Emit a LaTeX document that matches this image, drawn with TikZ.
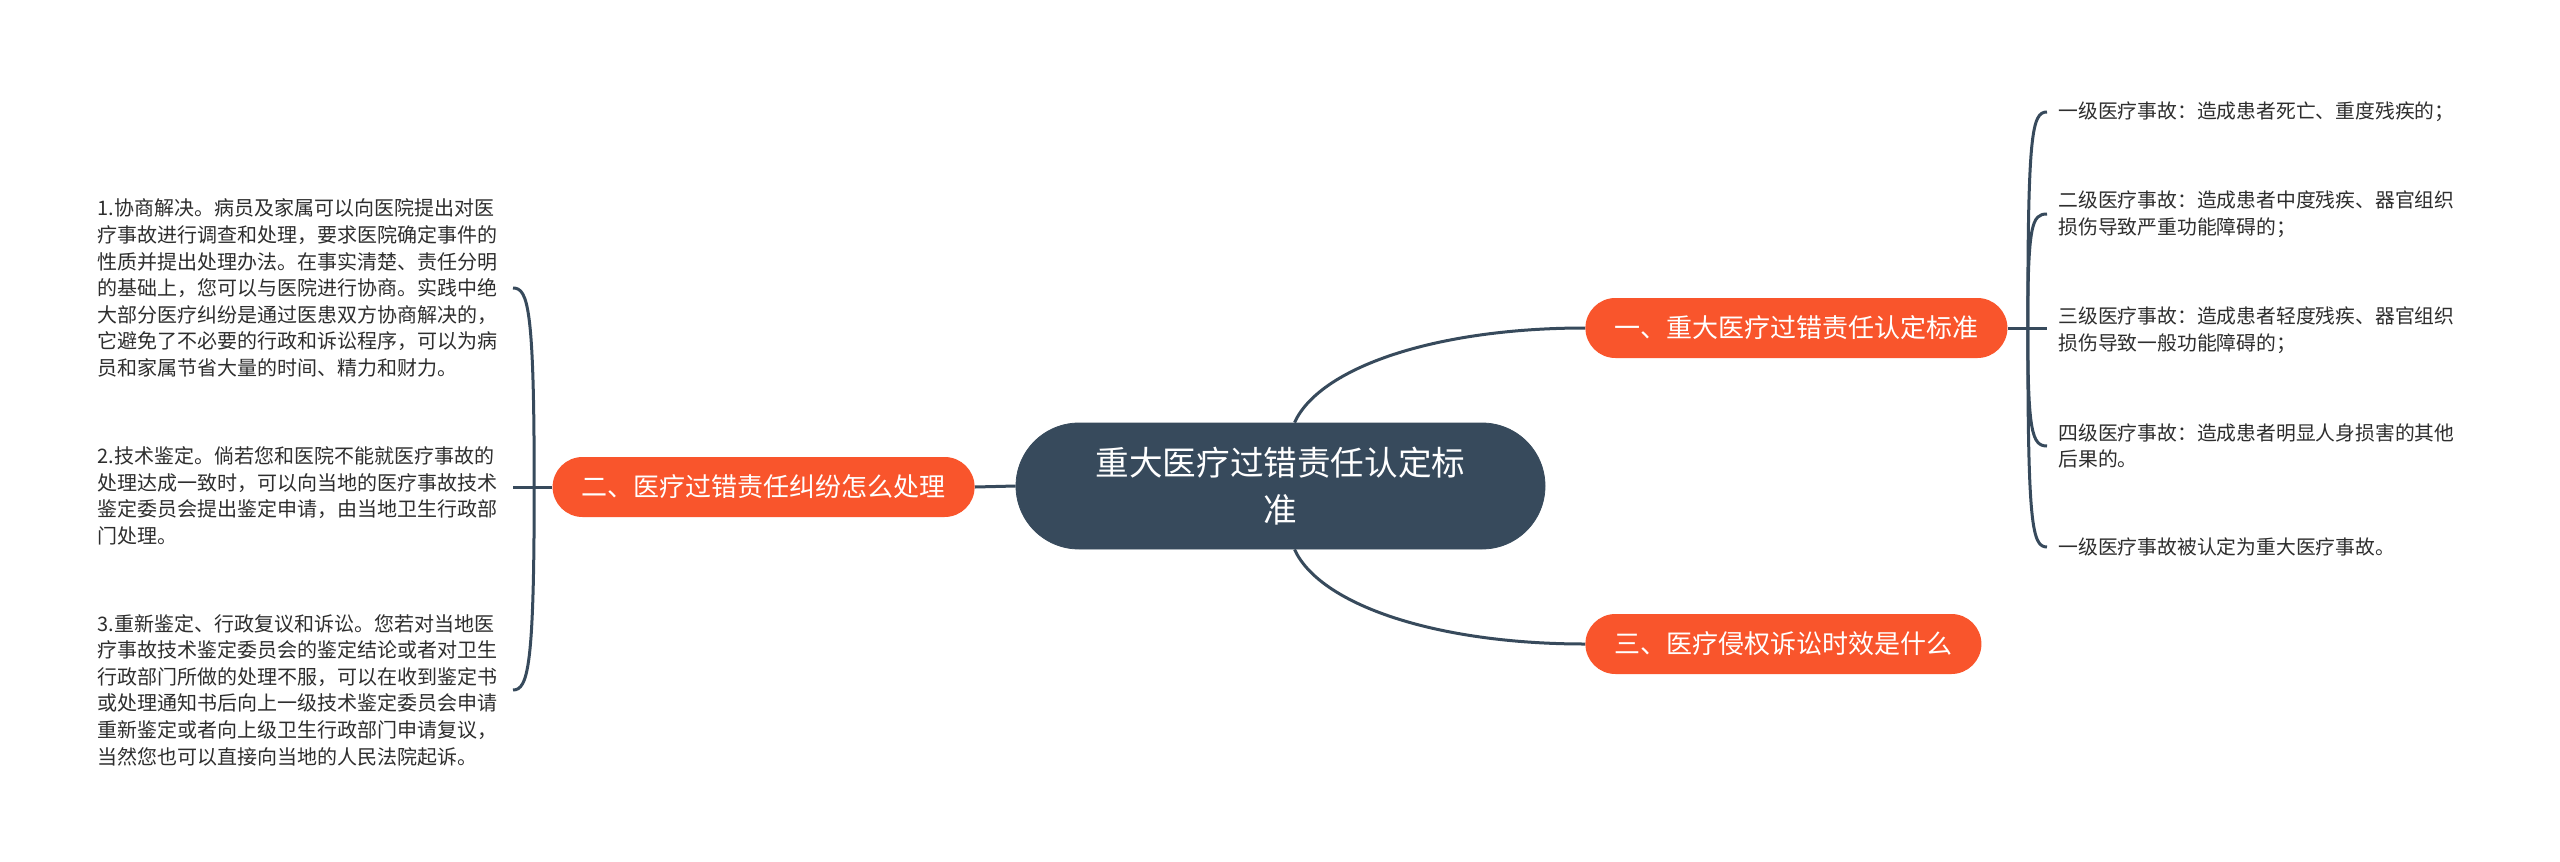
\documentclass[tikz,border=0pt]{standalone}
\usepackage{fontspec}
\setmainfont{Noto Sans CJK SC}
\usepackage{xcolor}
\usepackage{tikz}
\usetikzlibrary{positioning,calc}
\definecolor{slate}{HTML}{374A5C}
\definecolor{tangerine}{HTML}{F9552C}
\definecolor{inkgrey}{HTML}{2E2E2E}
\tikzstyle{link} = [draw=slate, line width=1.5pt]
\tikzstyle{hub} = [rectangle, fill=slate, draw=slate, rounded corners=31.5pt, minimum width=264.5pt, minimum height=63pt, align=center, text=white, font=\fontsize{16.8pt}{23.5pt}\selectfont]
\tikzstyle{topic} = [rectangle, fill=tangerine, rounded corners=15pt, minimum height=30pt, inner xsep=14.5pt, text=white, font=\fontsize{13pt}{15pt}\selectfont]
\tikzstyle{leafL} = [rectangle, text=inkgrey, align=left, text width=200pt, inner xsep=7.5pt, font=\fontsize{10pt}{13.3pt}\selectfont]
\tikzstyle{leafR} = [rectangle, text=inkgrey, align=left, text width=198pt, inner xsep=5.5pt, font=\fontsize{9.9pt}{13.3pt}\selectfont]

\begin{document}
\begin{tikzpicture}[x=0.5pt, y=-0.5pt]
    \fill[white] (0,0) rectangle (2560,862);
    \useasboundingbox (0,0) rectangle (2560,862);
    % centre and main topics
    \node[hub] (ctr) at (1280.5,486) {重大医疗过错责任认定标\\准};
    \node[topic, anchor=west] (b1) at (1585,328) {一、重大医疗过错责任认定标准};
    \node[topic, anchor=east] (b2) at (975,487) {二、医疗过错责任纠纷怎么处理};
    \node[topic, anchor=west] (b3) at (1585,644) {三、医疗侵权诉讼时效是什么};
    \draw[link] ($(ctr.north)+(14,0)$) .. controls +(25,-55) and +(-150,0) .. (b1.west);
    \draw[link] ($(ctr.south)+(14,0)$) .. controls +(25,55) and +(-150,0) .. (b3.west);
    \draw[link] (ctr.west) -- (b2.east);
    % right leaves
    \node[leafR, anchor=west] (c1) at (2047,112) {一级医疗事故：造成患者死亡、重度残疾的；};
    \node[leafR, anchor=west] (c2) at (2047,214) {二级医疗事故：造成患者中度残疾、器官组织\\损伤导致严重功能障碍的；};
    \node[leafR, anchor=west] (c3) at (2047,330) {三级医疗事故：造成患者轻度残疾、器官组织\\损伤导致一般功能障碍的；};
    \node[leafR, anchor=west] (c4) at (2047,446) {四级医疗事故：造成患者明显人身损害的其他\\后果的。};
    \node[leafR, anchor=west] (c5) at (2047,547) {一级医疗事故被认定为重大医疗事故。};
    \coordinate (rhub) at ($(b1.east)+(20,0)$);
    \draw[link] (b1.east) -- (b1.east -| c3.west);
    \foreach \n/\d in {c1/-196, c2/-104, c4/104, c5/197}
        \draw[link] (rhub) .. controls +(0,\d) and +(-15,0) .. (\n.west);
    % left leaves
    \node[leafL, anchor=east] (k1) at (513,288) {1.协商解决。病员及家属可以向医院提出对医\\疗事故进行调查和处理，要求医院确定事件的\\性质并提出处理办法。在事实清楚、责任分明\\的基础上，您可以与医院进行协商。实践中绝\\大部分医疗纠纷是通过医患双方协商解决的，\\它避免了不必要的行政和诉讼程序，可以为病\\员和家属节省大量的时间、精力和财力。};
    \node[leafL, anchor=east] (k2) at (513,496) {2.技术鉴定。倘若您和医院不能就医疗事故的\\处理达成一致时，可以向当地的医疗事故技术\\鉴定委员会提出鉴定申请，由当地卫生行政部\\门处理。};
    \node[leafL, anchor=east] (k3) at (513,690) {3.重新鉴定、行政复议和诉讼。您若对当地医\\疗事故技术鉴定委员会的鉴定结论或者对卫生\\行政部门所做的处理不服，可以在收到鉴定书\\或处理通知书后向上一级技术鉴定委员会申请\\重新鉴定或者向上级卫生行政部门申请复议，\\当然您也可以直接向当地的人民法院起诉。};
    \coordinate (lhub) at ($(b2.west)+(-18,0)$);
    \draw[link] (b2.west) -- (b2.west -| k2.east);
    \foreach \n/\d in {k1/-180, k3/180}
        \draw[link] (lhub) .. controls +(0,\d) and +(15,0) .. (\n.east);
\end{tikzpicture}
\end{document}
